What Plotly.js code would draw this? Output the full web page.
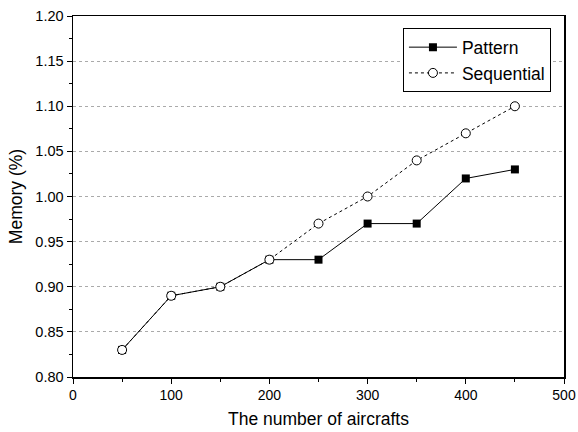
<!DOCTYPE html>
<html><head><meta charset="utf-8">
<script src="https://cdn.plot.ly/plotly-3.0.1.min.js"></script>
<style>body{margin:0;}#c{width:578px;height:432px;}</style>
</head><body><div id="c"></div>
<script>
var xVals = [50, 100, 150, 200, 250, 300, 350, 400, 450];
var patternVals = [0.83, 0.89, 0.90, 0.93, 0.93, 0.97, 0.97, 1.02, 1.03];
var sequentialVals = [0.83, 0.89, 0.90, 0.93, 0.97, 1.00, 1.04, 1.07, 1.10];
var seriesNames = ['Pattern', 'Sequential'];
var xTitle = 'The number of aircrafts';
var yTitle = 'Memory (%)';

var fam = 'Arial, Liberation Sans, sans-serif';
var traces = [
  {x: xVals, y: patternVals, name: seriesNames[0], type: 'scatter', mode: 'lines+markers',
   line: {color: '#000', width: 1}, marker: {symbol: 'square', size: 8, color: '#000'}},
  {x: xVals, y: sequentialVals, name: seriesNames[1], type: 'scatter', mode: 'lines+markers',
   line: {color: '#000', width: 1, dash: '3px,3px'},
   marker: {symbol: 'circle', size: 9, color: '#fff', line: {color: '#000', width: 1}}}
];
var layout = {
  width: 578, height: 432,
  margin: {l: 73, r: 14, t: 16, b: 55},
  paper_bgcolor: '#fff', plot_bgcolor: '#fff',
  font: {family: fam, color: '#000'},
  showlegend: true,
  legend: {x: 0.672, y: 0.966, xanchor: 'left', yanchor: 'top', bordercolor: '#000', borderwidth: 1,
           bgcolor: '#fff', font: {size: 17.5, family: fam, color: '#000'}, tracegroupgap: 0, itemwidth: 48},
  xaxis: {range: [0, 500], tickvals: [0, 100, 200, 300, 400, 500], ticks: 'outside', ticklen: 5, tickwidth: 1,
          tickcolor: '#000', showline: true, linecolor: '#000', linewidth: 1.5, mirror: true, showgrid: false,
          zeroline: false, tickfont: {size: 14, family: fam, color: '#000'},
          minor: {tickvals: [50, 150, 250, 350, 450], ticks: 'outside', ticklen: 3, tickcolor: '#000', showgrid: false},
          title: {text: xTitle, font: {size: 17.5, family: fam, color: '#000'}, standoff: 10}},
  yaxis: {range: [0.80, 1.20], dtick: 0.05, tick0: 0.8, tickformat: '.2f', ticks: 'outside', ticklen: 5, tickwidth: 1,
          tickcolor: '#000', showline: true, linecolor: '#000', linewidth: 1.5, mirror: true,
          showgrid: true, gridcolor: '#aaa', griddash: '3px,3px', gridwidth: 1, zeroline: false,
          tickfont: {size: 14.5, family: fam, color: '#000'},
          minor: {dtick: 0.025, tick0: 0.8, ticks: 'outside', ticklen: 3, tickcolor: '#000', showgrid: false},
          title: {text: yTitle, font: {size: 17.5, family: fam, color: '#000'}, standoff: 8}},
  xaxis2: {overlaying: 'x', matches: 'x', side: 'top', range: [0, 500], tickvals: [0, 100, 200, 300, 400, 500],
           ticks: 'inside', ticklen: 5, tickcolor: '#000', showticklabels: false, showgrid: false, zeroline: false,
           minor: {tickvals: [50, 150, 250, 350, 450], ticks: 'inside', ticklen: 3, tickcolor: '#000'}},
  yaxis2: {overlaying: 'y', matches: 'y', side: 'right', range: [0.80, 1.20], dtick: 0.05, tick0: 0.8,
           ticks: 'inside', ticklen: 5, tickcolor: '#000', showticklabels: false, showgrid: false, zeroline: false,
           minor: {dtick: 0.025, tick0: 0.8, ticks: 'inside', ticklen: 3, tickcolor: '#000'}}
};
Plotly.newPlot('c', traces, layout, {displayModeBar: false, staticPlot: true});
</script></body></html>
